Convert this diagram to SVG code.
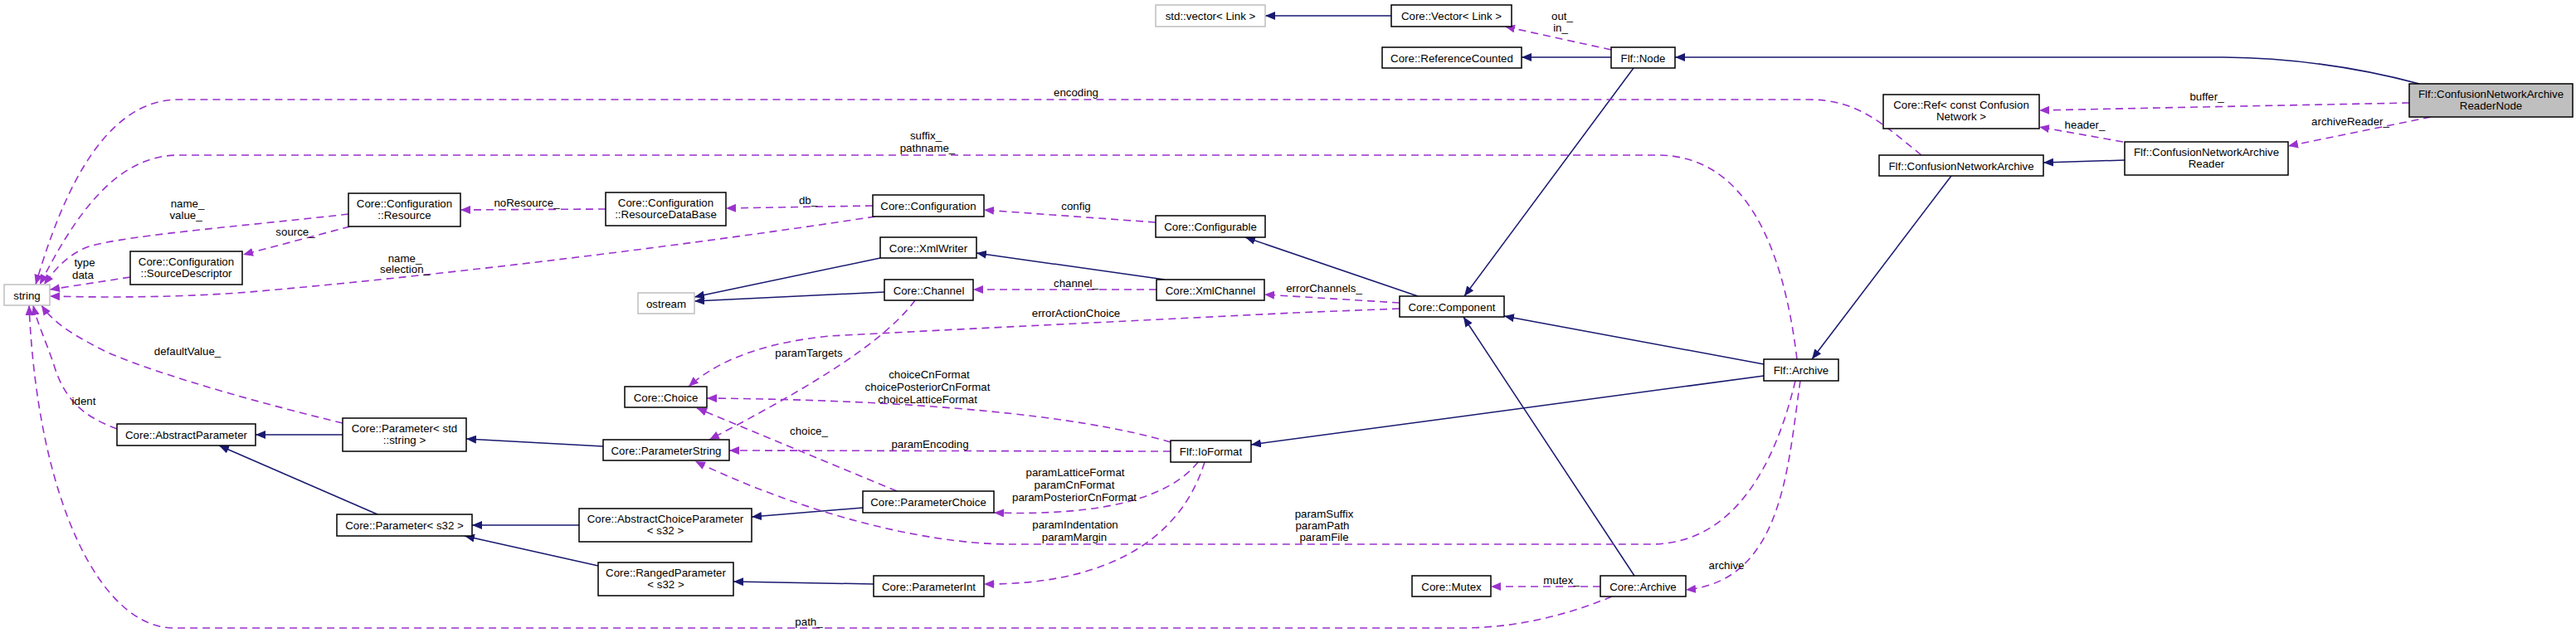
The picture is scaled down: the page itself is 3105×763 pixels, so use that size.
<svg xmlns="http://www.w3.org/2000/svg" width="3105" height="763" viewBox="0 0 3105 763">
<style>
text{font-family:"Liberation Sans",Arial,sans-serif;font-size:13.3px;fill:#000;text-anchor:middle}
.n rect{fill:#fff;stroke:#000;stroke-width:1.5}
.g rect{fill:#fff;stroke:#bfbfbf;stroke-width:1.5}
.h rect{fill:#bfbfbf;stroke:#000;stroke-width:1.5}
.i{fill:none;stroke:#191970;stroke-width:1.5;marker-end:url(#an)}
.c{fill:none;stroke:#9a32cd;stroke-width:1.6;stroke-dasharray:9,6;marker-end:url(#ap)}
</style>
<defs>
<marker id="an" viewBox="0 0 12 10" refX="12" refY="5" markerWidth="12" markerHeight="10" markerUnits="userSpaceOnUse" orient="auto"><path d="M0,0 L12,5 L0,10 z" fill="#191970" stroke="none"/></marker>
<marker id="ap" viewBox="0 0 12 10" refX="12" refY="5" markerWidth="12" markerHeight="10" markerUnits="userSpaceOnUse" orient="auto"><path d="M0,0 L12,5 L0,10 z" fill="#9a32cd" stroke="none"/></marker>
</defs>
<rect x="0" y="0" width="3105" height="763" fill="#fff"/>
<g id="connectors">
<path class="i" d="M1677,19 L1525,19"/>
<path class="i" d="M1942,69 L1834,69"/>
<path class="i" d="M2916,101 C2860,86 2780,70 2680,69 L2019,69"/>
<path class="i" d="M1969,82 L1765,357"/>
<path class="i" d="M1709,357 L1501,286"/>
<path class="i" d="M1061,311 L837,358"/>
<path class="i" d="M1066,352 L837,363"/>
<path class="i" d="M1404,337 L1177,305"/>
<path class="i" d="M2126,439 L1813,381"/>
<path class="i" d="M2352,212 L2184,433"/>
<path class="i" d="M2561,193 L2463,196"/>
<path class="i" d="M2126,453 L1508,536"/>
<path class="i" d="M1970,694 L1764,382"/>
<path class="i" d="M413,524 L308,524"/>
<path class="i" d="M455,620 L264,537"/>
<path class="i" d="M727,538 L562,529"/>
<path class="i" d="M698,633 L569,633"/>
<path class="i" d="M721,682 L560,646"/>
<path class="i" d="M1040,612 L906,623"/>
<path class="i" d="M1053,704 L884,701"/>

<path class="c" d="M1942,60 L1814,32"/>
<path class="c" d="M2904,124 C2800,126 2600,130 2458,133"/>
<path class="c" d="M2559,171 L2458,153"/>
<path class="c" d="M2930,141 L2758,176"/>
<path class="c" d="M2316,187 C2270,150 2240,120 2180,120 L215,120 C120,120 70,250 43,343"/>
<path class="c" d="M2166,433 C2150,300 2105,187 1998,187 L215,187 C140,187 90,260 48,343"/>
<path class="c" d="M420,258 C300,272 130,285 100,300 C80,310 68,322 53,343"/>
<path class="c" d="M422,273 L293,307"/>
<path class="c" d="M157,334 L60,349"/>
<path class="c" d="M730,252 L555,253"/>
<path class="c" d="M1052,248 L875,251"/>
<path class="c" d="M1055,261 C800,300 500,335 300,352 C200,360 100,358 60,357"/>
<path class="c" d="M1393,268 L1186,253"/>
<path class="c" d="M1394,349 L1173,349"/>
<path class="c" d="M1687,365 L1524,355"/>
<path class="c" d="M1687,372 L1560,377 C1400,385 1150,397 1000,405 C930,412 870,430 830,466"/>
<path class="c" d="M1103,362 C1060,420 950,480 855,530"/>
<path class="c" d="M1411,533 C1300,500 1100,482 852,480"/>
<path class="c" d="M1411,544 L879,543"/>
<path class="c" d="M1081,592 L840,492"/>
<path class="c" d="M1444,557 C1410,600 1330,622 1198,618"/>
<path class="c" d="M1452,557 C1420,660 1320,705 1186,704"/>
<path class="c" d="M2164,459 C2140,560 2090,656 1990,656 L1220,656 C1100,656 950,610 838,556"/>
<path class="c" d="M2170,459 C2155,560 2150,700 2032,711"/>
<path class="c" d="M1929,707 L1797,707"/>
<path class="c" d="M1943,719 C1880,745 1820,757 1760,757 L210,757 C120,757 45,600 35,368"/>
<path class="c" d="M141,517 C110,505 80,490 65,440 C55,410 45,390 40,368"/>
<path class="c" d="M413,510 C330,490 200,455 130,425 C90,405 65,390 50,368"/>

<text x="1883" y="23.5">out_</text>
<text x="1881" y="38">in_</text>
<text x="2660" y="121">buffer_</text>
<text x="2513" y="155">header_</text>
<text x="2833" y="151">archiveReader_</text>
<text x="1297" y="116">encoding</text>
<text x="1116" y="167.5">suffix_</text>
<text x="1118" y="183">pathname_</text>
<text x="226" y="249.5">name_</text>
<text x="224" y="264">value_</text>
<text x="356" y="283.5">source_</text>
<text x="102" y="321">type</text>
<text x="100" y="336">data</text>
<text x="635" y="248.5">noResource_</text>
<text x="974" y="245.5">db_</text>
<text x="488" y="315.5">name_</text>
<text x="488" y="328.5">selection_</text>
<text x="1297" y="252.5">config</text>
<text x="1297" y="345.5">channel_</text>
<text x="1596" y="351.5">errorChannels_</text>
<text x="1297" y="381.5">errorActionChoice</text>
<text x="975" y="429.5">paramTargets</text>
<text x="1120" y="456">choiceCnFormat</text>
<text x="1118" y="471">choicePosteriorCnFormat</text>
<text x="1118" y="485.5">choiceLatticeFormat</text>
<text x="975" y="523.5">choice_</text>
<text x="1121" y="539.5">paramEncoding</text>
<text x="1296" y="573.5">paramLatticeFormat</text>
<text x="1295" y="588.5">paramCnFormat</text>
<text x="1295" y="603.5">paramPosteriorCnFormat</text>
<text x="1296" y="636.5">paramIndentation</text>
<text x="1295" y="651.5">paramMargin</text>
<text x="1596" y="623.5">paramSuffix</text>
<text x="1594" y="637.5">paramPath</text>
<text x="1596" y="651.5">paramFile</text>
<text x="2081" y="685.5">archive</text>
<text x="1882" y="703.5">mutex_</text>
<text x="975" y="753.5">path_</text>
<text x="226" y="427.5">defaultValue_</text>
<text x="101" y="487.5">ident</text>
</g>

<g id="n_readernode" class="h"><rect x="2904" y="101" width="197" height="40"/><text x="3002.5" y="117.5">Flf::ConfusionNetworkArchive</text><text x="3002.5" y="132">ReaderNode</text></g>
<g id="n_node" class="n"><rect x="1942" y="57" width="77" height="25"/><text x="1980.5" y="74.5">Flf::Node</text></g>
<g id="n_refcounted" class="n"><rect x="1666" y="57" width="168" height="25"/><text x="1750" y="74.5">Core::ReferenceCounted</text></g>
<g id="n_vector" class="n"><rect x="1677" y="6" width="145" height="26"/><text x="1749.5" y="23.5">Core::Vector&lt; Link &gt;</text></g>
<g id="n_stdvector" class="g"><rect x="1393" y="6" width="132" height="26"/><text x="1459" y="23.5">std::vector&lt; Link &gt;</text></g>
<g id="n_ref" class="n"><rect x="2270" y="114" width="188" height="41"/><text x="2364" y="130.5">Core::Ref&lt; const Confusion</text><text x="2364" y="145">Network &gt;</text></g>
<g id="n_cna" class="n"><rect x="2265" y="187" width="198" height="25"/><text x="2364" y="204.5">Flf::ConfusionNetworkArchive</text></g>
<g id="n_cnareader" class="n"><rect x="2561" y="171" width="197" height="40"/><text x="2659.5" y="187.5">Flf::ConfusionNetworkArchive</text><text x="2659.5" y="202">Reader</text></g>
<g id="n_component" class="n"><rect x="1687" y="357" width="126" height="25"/><text x="1750" y="374.5">Core::Component</text></g>
<g id="n_configurable" class="n"><rect x="1393" y="260" width="132" height="26"/><text x="1459" y="277.5">Core::Configurable</text></g>
<g id="n_configuration" class="n"><rect x="1052" y="235" width="134" height="26"/><text x="1119" y="252.5">Core::Configuration</text></g>
<g id="n_resdb" class="n"><rect x="730" y="232" width="145" height="40"/><text x="802.5" y="248.5">Core::Configuration</text><text x="802.5" y="263">::ResourceDataBase</text></g>
<g id="n_resource" class="n"><rect x="420" y="233" width="135" height="40"/><text x="487.5" y="249.5">Core::Configuration</text><text x="487.5" y="264">::Resource</text></g>
<g id="n_srcdesc" class="n"><rect x="157" y="303" width="135" height="40"/><text x="224.5" y="319.5">Core::Configuration</text><text x="224.5" y="334">::SourceDescriptor</text></g>
<g id="n_string" class="g"><rect x="5" y="343" width="55" height="25"/><text x="32.5" y="360.5">string</text></g>
<g id="n_ostream" class="g"><rect x="769" y="353" width="68" height="25"/><text x="803" y="370.5">ostream</text></g>
<g id="n_xmlwriter" class="n"><rect x="1061" y="286" width="116" height="25"/><text x="1119" y="303.5">Core::XmlWriter</text></g>
<g id="n_channel" class="n"><rect x="1066" y="337" width="107" height="25"/><text x="1119.5" y="354.5">Core::Channel</text></g>
<g id="n_xmlchannel" class="n"><rect x="1394" y="337" width="130" height="25"/><text x="1459" y="354.5">Core::XmlChannel</text></g>
<g id="n_choice" class="n"><rect x="753" y="466" width="99" height="25"/><text x="802.5" y="483.5">Core::Choice</text></g>
<g id="n_paramstring" class="n"><rect x="727" y="530" width="152" height="25"/><text x="803" y="547.5">Core::ParameterString</text></g>
<g id="n_abstractparam" class="n"><rect x="141" y="511" width="167" height="26"/><text x="224.5" y="529">Core::AbstractParameter</text></g>
<g id="n_paramstd" class="n"><rect x="413" y="504" width="149" height="40"/><text x="487.5" y="520.5">Core::Parameter&lt; std</text><text x="487.5" y="535">::string &gt;</text></g>
<g id="n_params32" class="n"><rect x="406" y="620" width="163" height="26"/><text x="487.5" y="638">Core::Parameter&lt; s32 &gt;</text></g>
<g id="n_abschoice" class="n"><rect x="698" y="613" width="208" height="40"/><text x="802" y="629.5">Core::AbstractChoiceParameter</text><text x="802" y="644">&lt; s32 &gt;</text></g>
<g id="n_ranged" class="n"><rect x="721" y="678" width="163" height="40"/><text x="802.5" y="694.5">Core::RangedParameter</text><text x="802.5" y="709">&lt; s32 &gt;</text></g>
<g id="n_paramchoice" class="n"><rect x="1040" y="592" width="158" height="26"/><text x="1119" y="610">Core::ParameterChoice</text></g>
<g id="n_paramint" class="n"><rect x="1053" y="694" width="133" height="25"/><text x="1119.5" y="711.5">Core::ParameterInt</text></g>
<g id="n_ioformat" class="n"><rect x="1411" y="531" width="97" height="26"/><text x="1459.5" y="549">Flf::IoFormat</text></g>
<g id="n_flfarchive" class="n"><rect x="2126" y="433" width="90" height="26"/><text x="2171" y="451">Flf::Archive</text></g>
<g id="n_mutex" class="n"><rect x="1702" y="694" width="95" height="25"/><text x="1749.5" y="711.5">Core::Mutex</text></g>
<g id="n_corearchive" class="n"><rect x="1929" y="694" width="103" height="25"/><text x="1980.5" y="711.5">Core::Archive</text></g>
</svg>
